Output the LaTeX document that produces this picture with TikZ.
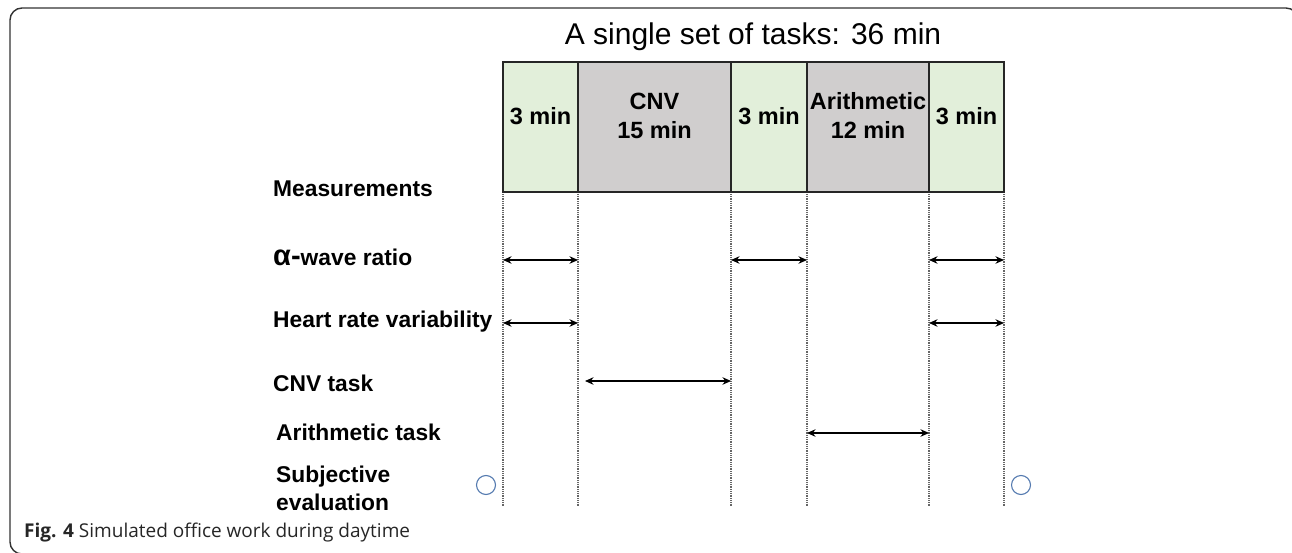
\documentclass[tikz,border=0pt]{standalone}
\usepackage{fontspec}
\setmainfont{Liberation Sans}
\newfontfamily\capfont{Open Sans}
\usetikzlibrary{arrows.meta}

\definecolor{restgreen}{RGB}{226,239,218}
\definecolor{taskgray}{RGB}{208,206,206}
\definecolor{ringblue}{RGB}{84,122,175}

\begin{document}
\begin{tikzpicture}[x=1pt, y=-1pt,
	box/.style = {draw = black!85, line width = 1.4pt, minimum height = 130pt, inner sep = 0pt},
	lab/.style = {font = \fontsize{23.5}{29}\selectfont\bfseries, align = center, inner sep = 0pt},
	row/.style = {font = \fontsize{22.8}{28}\selectfont\bfseries, anchor = west, align = left, inner sep = 0pt},
	guide/.style = {black!60, line width = 1.1pt, dash pattern = on 1pt off 0.8pt},
	span/.style = {black, line width = 1.5pt, {Stealth[length=8.5pt,width=7.5pt]}-{Stealth[length=8.5pt,width=7.5pt]}},
	ring/.style = {circle, draw = ringblue, line width = 1.1pt, minimum size = 19pt, inner sep = 0pt}]
	\useasboundingbox (0,0) rectangle (1292,553);
	\draw [black!80, line width = 1.4pt, rounded corners = 12pt] (40,554) -- (10,554) -- (10,8) -- (1298,8) -- (1298,580);

	\node [font = \fontsize{30}{34}\selectfont] (title) at (753,37) {A single set of tasks: 36 min};

	% task blocks
	\node [box, fill = restgreen, minimum width = 75pt]  (b1) at (540.5,127) {};
	\node [box, fill = taskgray,  minimum width = 153pt] (b2) at (654.5,127) {};
	\node [box, fill = restgreen, minimum width = 76pt]  (b3) at (769,127) {};
	\node [box, fill = taskgray,  minimum width = 122pt] (b4) at (868,127) {};
	\node [box, fill = restgreen, minimum width = 75pt]  (b5) at (966.5,127) {};
	\node [lab] (l1) at (540.5,116) {3 min};
	\node [lab] (l2) at (654.5,116) {CNV\\15 min};
	\node [lab] (l3) at (769,116) {3 min};
	\node [lab] (l4) at (868,115) {Arithmetic\\12 min};
	\node [lab] (l5) at (966.5,116) {3 min};

	% column guides
	\foreach \n/\x in {0/503, 1/578, 2/731, 3/807, 4/929, 5/1004} {
		\coordinate (c\n) at (\x,194);
		\coordinate (e\n) at (\x,506);
		\draw [guide] (c\n) -- (e\n);
	}

	% measurement rows
	\node [row] (m0) at (273,189) {Measurements};
	\node [row] (m1) at (273,257) {{\fontsize{29}{29}\selectfont α-}wave ratio};
	\node [row] (m2) at (273,322) {Heart rate variability};
	\node [row] (m3) at (273,383) {CNV task};
	\node [row] (m4) at (276,432) {Arithmetic task};
	\node [row] (m5) at (276,488) {Subjective\\evaluation};

	\coordinate (r1) at (0,260);
	\coordinate (r2) at (0,323);
	\coordinate (r3) at (0,381);
	\coordinate (r4) at (0,433);
	\coordinate (p3) at (585,0);

	\draw [span] (c0 |- r1) -- (c1 |- r1);
	\draw [span] (c2 |- r1) -- (c3 |- r1);
	\draw [span] (c4 |- r1) -- (c5 |- r1);
	\draw [span] (c0 |- r2) -- (c1 |- r2);
	\draw [span] (c4 |- r2) -- (c5 |- r2);
	\draw [span] (p3 |- r3) -- (c2 |- r3);
	\draw [span] (c3 |- r4) -- (c4 |- r4);

	\node [ring] (o1) at (486,485) {};
	\node [ring] (o2) at (1021,485) {};

	\node [anchor = west, inner sep = 0pt, text = black!85, font = \capfont\fontsize{19}{22}\selectfont] (cap) at (24,533) {\textbf{Fig. 4} Simulated office work during daytime};
\end{tikzpicture}
\end{document}
